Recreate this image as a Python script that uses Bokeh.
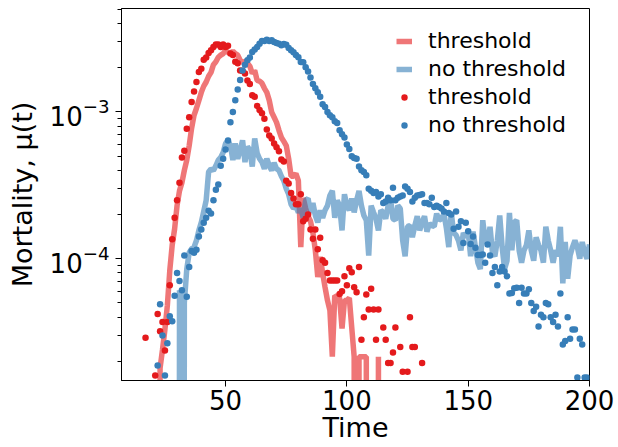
from bokeh.plotting import figure
from bokeh.models import FixedTicker, Legend, LegendItem, Range1d, LogTickFormatter
from bokeh.embed import file_html
from bokeh.resources import INLINE

# ---------------- data ----------------
red_line_t = list(range(22, 115))
red_line_v = [0, 1.8e-5, 2.4e-5, 3.3e-5, 4.8e-5, 8.3e-5, 1.24e-4, 1.6e-4, 2.3e-4, 2.9e-4,
              3.3e-4, 4.0e-4, 4.7e-4, 5.9e-4, 7.75e-4, 9.5e-4, 1.06e-3, 1.2e-3, 1.36e-3, 1.5e-3,
              1.6e-3, 1.75e-3, 1.86e-3, 2.1e-3, 2.2e-3, 2.36e-3, 2.44e-3, 2.5e-3, 2.63e-3, 2.55e-3,
              2.5e-3, 2.6e-3, 2.5e-3, 2.44e-3, 2.25e-3, 2.18e-3, 2.2e-3, 2.15e-3, 2.05e-3, 1.83e-3,
              1.92e-3, 1.64e-3, 1.62e-3, 1.57e-3, 1.45e-3, 1.36e-3, 1.2e-3, 9.95e-4, 9.2e-4, 8.5e-4,
              7.5e-4, 6.7e-4, 6.3e-4, 5.9e-4, 4.8e-4, 3.65e-4, 3.65e-4, 3.8e-4, 3.4e-4, 1.2e-4,
              2.6e-4, 2.2e-4, 1.95e-4, 1.8e-4, 1.5e-4, 1.14e-4, 7.5e-5, 1.03e-4, 8.0e-5, 6.4e-5,
              5.2e-5, 4.45e-5, 2.15e-5, 5.6e-5, 5.5e-5, 5.4e-5, 3.35e-5, 5.2e-5, 5.2e-5, 5.4e-5,
              3.4e-5, 2.15e-5, 0, 2.15e-5, 2.15e-5, 2.15e-5, 2.15e-5, 0, 0, 0,
              0, 2.15e-5, 0]

blue_line_t = list(range(30, 201))
blue_line_v = [0, 6.1e-5, 0, 5.0e-5, 8.5e-5, 1.1e-4, 1.17e-4, 1.2e-4, 1.33e-4, 1.56e-4,
               1.77e-4, 2.1e-4, 2.5e-4, 3.9e-4, 4.1e-4, 4.0e-4, 4.3e-4, 4.7e-4, 4.9e-4, 5.3e-4,
               6.1e-4, 6.4e-4, 5.9e-4, 4.7e-4, 6.1e-4, 4.8e-4, 5.5e-4, 6.4e-4, 4.55e-4, 5.8e-4,
               5.5e-4, 4.25e-4, 6.6e-4, 5.25e-4, 4.8e-4, 4.55e-4, 4.1e-4, 4.8e-4, 4.3e-4, 4.0e-4,
               4.5e-4, 4.1e-4, 4.0e-4, 3.65e-4, 3.4e-4, 3.0e-4, 2.75e-4, 2.35e-4, 2.2e-4, 2.27e-4,
               2.07e-4, 2.2e-4, 1.9e-4, 2.5e-4, 2.57e-4, 2.05e-4, 2.4e-4, 1.97e-4, 1.77e-4, 2.14e-4,
               1.9e-4, 2.14e-4, 2.3e-4, 2.7e-4, 2.9e-4, 1.9e-4, 2.5e-4, 2.3e-4, 1.56e-4, 2.75e-4,
               2.3e-4, 2.14e-4, 2.57e-4, 2.07e-4, 2.5e-4, 2.9e-4, 2.3e-4, 1.97e-4, 1.83e-4, 1.05e-4,
               2.3e-4, 2.07e-4, 1.87e-4, 1.56e-4, 2.14e-4, 2.07e-4, 1.87e-4, 2.3e-4, 2.57e-4, 1.87e-4,
               1.83e-4, 2.3e-4, 2.2e-4, 1.33e-4, 1.04e-4, 1.66e-4, 1.68e-4, 1.4e-4, 1.68e-4, 1.95e-4,
               1.56e-4, 1.77e-4, 1.95e-4, 1.53e-4, 1.74e-4, 1.68e-4, 1.66e-4, 2.03e-4, 1.83e-4, 1.87e-4,
               2.03e-4, 1.62e-4, 1.2e-4, 2.07e-4, 1.5e-4, 1.45e-4, 1.33e-4, 1.14e-4, 1.5e-4, 1.4e-4,
               1.53e-4, 1.04e-4, 1.53e-4, 1.2e-4, 9.4e-5, 8.5e-5, 1.83e-4, 1.33e-4, 1.27e-4, 1.65e-4,
               1.1e-4, 1.04e-4, 1.33e-4, 1.97e-4, 1.2e-4, 8.5e-5, 9.7e-5, 2.05e-4, 1.14e-4, 1.77e-4,
               1.83e-4, 1.14e-4, 9.4e-5, 1.14e-4, 1.24e-4, 1.56e-4, 1.14e-4, 9.7e-5, 1.4e-4, 1.24e-4,
               1.14e-4, 9.4e-5, 1.65e-4, 1.33e-4, 1.14e-4, 9.4e-5, 1.14e-4, 1.04e-4, 1.65e-4, 6.8e-5,
               1.3e-4, 7.3e-5, 1.05e-4, 1.2e-4, 1.33e-4, 1.2e-4, 1.0e-4, 1.3e-4, 1.1e-4, 1.0e-4,
               1.25e-4]

red_dot_t = [17, 21, 22, 23, 24, 25, 26, 27, 28, 29, 30, 31, 32, 33, 34, 35, 36, 37, 38, 39,
             40, 41, 42, 43, 44, 45, 46, 47, 48, 49, 50, 51, 52, 53, 54, 55, 56, 57, 58, 59,
             60, 61, 62, 63, 64, 65, 66, 67, 68, 69, 70, 71, 72, 73, 74, 75, 76, 77, 78, 79,
             80, 81, 82, 83, 84, 85, 86, 87, 88, 89, 90, 91, 92, 93, 94, 95, 96, 97, 98, 99,
             100, 101, 102, 103, 104, 105, 106, 107, 108, 109, 110, 111, 112, 113, 115, 116, 117, 118, 119, 120,
             122, 123, 125, 126, 127, 128, 131]
red_dot_v = [2.9e-5, 1.6e-5, 4.2e-5, 3.2e-5, 3.7e-5, 2.37e-5, 3.7e-5, 6.6e-5, 1.36e-4, 1.9e-4,
             2.5e-4, 3.3e-4, 4.9e-4, 5.45e-4, 7.7e-4, 9.2e-4, 1.17e-3, 1.38e-3, 1.6e-3, 1.87e-3,
             1.97e-3, 2.27e-3, 2.35e-3, 2.52e-3, 2.63e-3, 2.77e-3, 2.88e-3, 2.88e-3, 2.77e-3, 2.88e-3,
             2.77e-3, 2.83e-3, 2.5e-3, 2.44e-3, 2.2e-3, 2.15e-3, 1.92e-3, 1.9e-3, 1.83e-3, 1.64e-3,
             1.55e-3, 1.3e-3, 1.27e-3, 1.1e-3, 1.03e-3, 9.8e-4, 9.0e-4, 7.6e-4, 6.9e-4, 6.6e-4,
             6.1e-4, 5.75e-4, 5.4e-4, 4.75e-4, 4.6e-4, 3.4e-4, 3.25e-4, 2.8e-4, 2.57e-4, 2.35e-4,
             2.35e-4, 2.75e-4, 1.8e-4, 1.87e-4, 2.0e-4, 1.58e-4, 1.37e-4, 1.58e-4, 1.16e-4, 1.39e-4,
             9.75e-5, 9.4e-5, 8.0e-5, 7.1e-5, 7.1e-5, 7.1e-5, 7.1e-5, 5.75e-5, 6.0e-5, 7.6e-5,
             6.6e-5, 8.6e-5, 8.1e-5, 6.4e-5, 5.9e-5, 8.8e-5, 2.8e-5, 4.0e-5, 5.7e-5, 4.5e-5,
             6.25e-5, 4.5e-5, 2.8e-5, 4.5e-5, 3.4e-5, 2.8e-5, 1.95e-5, 1.95e-5, 2.3e-5, 3.4e-5,
             2.5e-5, 1.7e-5, 1.7e-5, 4.0e-5, 2.5e-5, 2.5e-5, 1.95e-5]

blue_dot_t = list(range(22, 200))
blue_dot_v = [1.87e-5, 4.9e-5, 3.0e-5, 1.6e-5, 2.65e-5, 4.05e-5, 3.75e-5, 5.6e-5, 8.0e-5, 7.05e-5, 6.1e-5, 1.05e-4,
              5.5e-5, 8.8e-5, 1.13e-4, 1.1e-4, 1.15e-4, 1.42e-4, 1.58e-4, 1.76e-4, 1.9e-4, 2.12e-4, 2.03e-4, 2.5e-4,
              2.95e-4, 3.2e-4, 4.3e-4, 4.8e-4, 5.55e-4, 6.4e-4, 8.5e-4, 1.0e-3, 1.2e-3, 1.42e-3, 1.65e-3, 1.92e-3,
              2.1e-3, 2.25e-3, 2.35e-3, 2.56e-3, 2.66e-3, 2.77e-3, 2.92e-3, 3.05e-3, 3.05e-3, 3.1e-3, 3.05e-3, 3.08e-3,
              3.0e-3, 2.95e-3, 2.92e-3, 2.85e-3, 2.9e-3, 2.87e-3, 2.73e-3, 2.63e-3, 2.55e-3, 2.44e-3, 2.36e-3, 2.19e-3,
              2.18e-3, 2.02e-3, 1.89e-3, 1.72e-3, 1.55e-3, 1.45e-3, 1.36e-3, 1.27e-3, 1.13e-3, 1.08e-3, 1.0e-3, 9.5e-4,
              9.2e-4, 8.65e-4, 8.4e-4, 7.5e-4, 7.05e-4, 6.7e-4, 6.0e-4, 5.6e-4, 5.0e-4, 4.85e-4, 4.8e-4, 4.25e-4,
              4.0e-4, 3.9e-4, 3.7e-4, 3.0e-4, 2.9e-4, 2.8e-4, 2.85e-4, 2.65e-4, 2.75e-4, 2.4e-4, 2.45e-4, 2.6e-4,
              2.5e-4, 3.05e-4, 2.5e-4, 2.6e-4, 2.65e-4, 2.7e-4, 3.1e-4, 3.0e-4, 2.85e-4, 2.45e-4, 2.6e-4, 2.7e-4,
              2.72e-4, 2.75e-4, 2.4e-4, 2.4e-4, 2.35e-4, 2.6e-4, 2.25e-4, 2.3e-4, 2.25e-4, 2.2e-4, 2.1e-4, 2.4e-4,
              2.05e-4, 2.0e-4, 1.6e-4, 2.1e-4, 1.65e-4, 1.8e-4, 1.28e-4, 1.76e-4, 1.54e-4, 1.26e-4, 1.42e-4, 1.19e-4,
              1.06e-4, 1.06e-4, 1.07e-4, 9.4e-5, 1.25e-4, 1.05e-4, 8.0e-5, 8.8e-5, 6.6e-5, 8.2e-5, 8.8e-5, 8.2e-5,
              7.6e-5, 5.8e-5, 5.85e-5, 6.3e-5, 6.35e-5, 5.0e-5, 6.35e-5, 5.8e-5, 5.8e-5, 6.2e-5, 5.0e-5, 4.4e-5,
              4.7e-5, 3.45e-5, 4.15e-5, 4.0e-5, 5.0e-5, 4.9e-5, 4.0e-5, 3.7e-5, 4.15e-5, 3.45e-5, 5.8e-5, 2.6e-5,
              2.75e-5, 4.0e-5, 2.85e-5, 3.3e-5, 3.3e-5, 1.55e-5, 2.85e-5, 2.6e-5, 1.55e-5, 1.55e-5]

x_ticks = [50, 100, 150, 200]
y_ticks = [1e-4, 1e-3]
y_minor = [m * 10.0 ** e for e in (-5, -4, -3) for m in range(2, 10) if 1.4e-5 < m * 10.0 ** e < 5.1e-3]

series_labels = ["threshold", "no threshold"]
x_label = "Time"
y_label = "Mortality, μ(t)"
RED = "#e41a1c"
BLUE = "#377eb8"
FONT = "DejaVu Sans"

# zero values are clipped far below the axis (like a log-scale clip)
def clip(vals):
    return [v if v > 0 else 1e-30 for v in vals]

p = figure(width=618, height=447, y_axis_type="log",
           x_range=Range1d(7.1, 200), y_range=Range1d(1.48e-5, 5.07e-3),
           output_backend="svg", toolbar_location=None,
           min_border_left=121, min_border_right=29, min_border_top=8, min_border_bottom=67)

p.xgrid.visible = False
p.ygrid.visible = False
p.outline_line_color = "black"
p.outline_line_width = 1
p.outline_line_alpha = 1
p.background_fill_color = "white"
p.border_fill_color = "white"

r_line_red = p.line(red_line_t, clip(red_line_v), line_color=RED, line_alpha=0.6, line_width=5.5)
r_line_blue = p.line(blue_line_t, clip(blue_line_v), line_color=BLUE, line_alpha=0.6, line_width=5.5)
r_dot_red = p.scatter(red_dot_t, red_dot_v, size=6.5, fill_color=RED, line_color=None)
r_dot_blue = p.scatter(blue_dot_t, blue_dot_v, size=6.5, fill_color=BLUE, line_color=None)

for ax in (p.xaxis[0], p.yaxis[0]):
    ax.axis_line_color = "black"
    ax.major_tick_line_color = "black"
    ax.minor_tick_line_color = "black"
    ax.major_tick_out = 6
    ax.major_tick_in = 0
    ax.minor_tick_out = 4
    ax.minor_tick_in = 0
    ax.major_label_text_font = FONT
    ax.major_label_text_font_size = "26px"
    ax.major_label_text_color = "black"
    ax.axis_label_text_font = FONT
    ax.axis_label_text_font_size = "27px"
    ax.axis_label_text_font_style = "normal"
    ax.axis_label_text_color = "black"

p.xaxis.ticker = FixedTicker(ticks=x_ticks, minor_ticks=[])
p.yaxis.ticker = FixedTicker(ticks=y_ticks, minor_ticks=y_minor)
p.yaxis.formatter = LogTickFormatter()
p.xaxis.axis_label = x_label
p.yaxis.axis_label = y_label
p.xaxis.major_label_standoff = 3
p.xaxis.axis_label_standoff = -1
p.yaxis.major_label_standoff = 6
p.yaxis.axis_label_standoff = 9

legend = Legend(items=[
    LegendItem(label=series_labels[0], renderers=[r_line_red]),
    LegendItem(label=series_labels[1], renderers=[r_line_blue]),
    LegendItem(label=series_labels[0], renderers=[r_dot_red]),
    LegendItem(label=series_labels[1], renderers=[r_dot_blue]),
], location=(275, 243), background_fill_alpha=0, border_line_alpha=0,
   label_text_font=FONT, label_text_font_size="22px", label_text_color="black",
   glyph_width=16, glyph_height=20, label_height=20, spacing=3,
   padding=0, margin=0, label_standoff=16)
p.add_layout(legend)

open("out.html", "w").write(file_html(p, INLINE))
